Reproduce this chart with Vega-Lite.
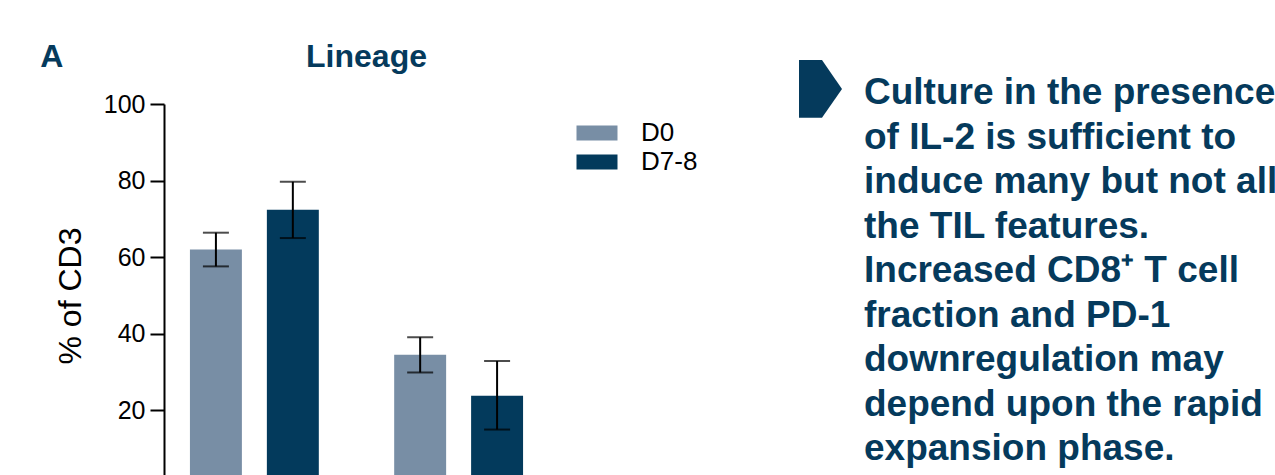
{
  "$schema": "https://vega.github.io/schema/vega-lite/v6.json",
  "background": "white",
  "padding": {"left": 40, "top": 41, "right": 0, "bottom": 0},
  "title": {
    "text": "A",
    "anchor": "start",
    "fontSize": 32,
    "fontWeight": "bold",
    "color": "#053A5C",
    "font": "Liberation Sans",
    "baseline": "alphabetic",
    "dx": -14,
    "dy": 62
  },
  "spacing": 250,
  "hconcat": [
    {
      "width": 385,
      "height": 383,
      "title": {
        "text": "Lineage",
        "anchor": "middle",
        "dx": 10,
        "offset": -7,
        "baseline": "alphabetic",
        "fontSize": 32,
        "fontWeight": "bold",
        "color": "#053A5C",
        "font": "Liberation Sans"
      },
      "data": {
        "values": [
          {"lineage": "CD4⁺", "day": "D0", "mean": 62.0, "lo": 57.6, "hi": 66.4},
          {"lineage": "CD4⁺", "day": "D7-8", "mean": 72.4, "lo": 65.0, "hi": 79.7},
          {"lineage": "CD8⁺", "day": "D0", "mean": 34.5, "lo": 29.9, "hi": 39.1},
          {"lineage": "CD8⁺", "day": "D7-8", "mean": 23.8, "lo": 15.0, "hi": 32.9}
        ]
      },
      "encoding": {
        "x": {
          "field": "lineage",
          "type": "nominal",
          "axis": null,
          "scale": {"paddingInner": 0.369, "paddingOuter": 0.127}
        },
        "xOffset": {
          "field": "day",
          "type": "nominal",
          "scale": {"paddingInner": 0.3247, "paddingOuter": 0}
        }
      },
      "layer": [
        {
          "mark": {"type": "bar"},
          "encoding": {
            "y": {
              "field": "mean",
              "type": "quantitative",
              "scale": {"domain": [0, 100], "nice": false},
              "axis": {
                "title": "% of CD3",
                "values": [20, 40, 60, 80, 100],
                "grid": false,
                "domainColor": "black",
                "domainWidth": 2,
                "tickColor": "black",
                "tickWidth": 2,
                "tickSize": 14,
                "labelColor": "black",
                "labelFontSize": 25,
                "labelPadding": 5,
                "labelFont": "Liberation Sans",
                "titleFont": "Liberation Sans",
                "titleFontSize": 32,
                "titleFontWeight": "normal",
                "titleColor": "black",
                "titlePadding": 16
              }
            },
            "color": {
              "field": "day",
              "type": "nominal",
              "scale": {"domain": ["D0", "D7-8"], "range": ["#788EA5", "#033A5C"]},
              "legend": {
                "title": null,
                "orient": "none",
                "legendX": 420,
                "legendY": 16,
                "padding": 0,
                "symbolType": "M-2.733,-1H2.733V1H-2.733Z",
                "symbolSize": 225,
                "symbolStrokeWidth": 0,
                "symbolOpacity": 1,
                "labelOffset": 31,
                "labelFontSize": 26,
                "labelFont": "Liberation Sans",
                "labelColor": "black",
                "rowPadding": 3
              }
            }
          }
        },
        {
          "mark": {"type": "rule", "color": "black", "strokeWidth": 2},
          "encoding": {
            "y": {"field": "lo", "type": "quantitative"},
            "y2": {"field": "hi"}
          }
        },
        {
          "mark": {"type": "tick", "color": "black", "thickness": 2, "size": 26, "orient": "horizontal"},
          "encoding": {"y": {"field": "lo", "type": "quantitative"}}
        },
        {
          "mark": {"type": "tick", "color": "black", "thickness": 2, "size": 26, "orient": "horizontal"},
          "encoding": {"y": {"field": "hi", "type": "quantitative"}}
        }
      ]
    },
    {
      "width": 44,
      "height": 356,
      "encoding": {
        "x": {
          "field": "col",
          "type": "nominal",
          "axis": null,
          "scale": {"type": "point", "domain": ["bullet", "text"], "padding": 0}
        },
        "y": {
          "field": "line",
          "type": "ordinal",
          "axis": null,
          "scale": {"type": "point", "padding": 0}
        }
      },
      "layer": [
        {
          "data": {"values": [{"line": 1, "col": "bullet"}]},
          "mark": {
            "type": "point",
            "shape": "M-0.477,-1L0.045,-1L0.5,-0.341L0.045,0.311L-0.477,0.311Z",
            "size": 7744,
            "filled": true,
            "opacity": 1,
            "strokeWidth": 0,
            "color": "#053A5C"
          }
        },
        {
          "data": {
            "values": [
              {"line": 1, "col": "text", "text": "Culture in the presence"},
              {"line": 2, "col": "text", "text": "of IL-2 is sufficient to"},
              {"line": 3, "col": "text", "text": "induce many but not all"},
              {"line": 4, "col": "text", "text": "the TIL features."},
              {"line": 5, "col": "text", "text": "Increased CD8⁺ T cell"},
              {"line": 6, "col": "text", "text": "fraction and PD-1"},
              {"line": 7, "col": "text", "text": "downregulation may"},
              {"line": 8, "col": "text", "text": "depend upon the rapid"},
              {"line": 9, "col": "text", "text": "expansion phase."}
            ]
          },
          "mark": {
            "type": "text",
            "align": "left",
            "baseline": "alphabetic",
            "fontSize": 37,
            "fontWeight": "bold",
            "font": "Liberation Sans",
            "color": "#053A5C"
          },
          "encoding": {"text": {"field": "text"}}
        }
      ]
    }
  ],
  "config": {
    "view": {"stroke": null},
    "font": "Liberation Sans"
  }
}
